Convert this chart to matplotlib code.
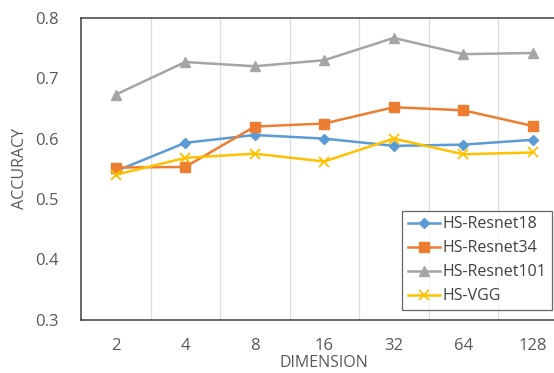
import matplotlib
matplotlib.use("Agg")
import matplotlib.pyplot as plt
import numpy as np

dims = ["2", "4", "8", "16", "32", "64", "128"]
resnet18 = [0.546, 0.593, 0.606, 0.600, 0.588, 0.590, 0.598]
resnet34 = [0.552, 0.553, 0.620, 0.625, 0.652, 0.647, 0.621]
resnet101 = [0.673, 0.727, 0.720, 0.730, 0.767, 0.740, 0.742]
vgg = [0.540, 0.568, 0.575, 0.562, 0.600, 0.574, 0.577]
yticks = [0.3, 0.4, 0.5, 0.6, 0.7, 0.8]

plt.rcParams['font.family'] = ['Open Sans', 'DejaVu Sans']
W, H = 554, 373
fig = plt.figure(figsize=(W/100, H/100), dpi=100)
ax = fig.add_axes([81/W, 1-319.5/H, 486.5/W, 301.5/H])

x = np.arange(len(dims))
ax.plot(x, resnet18, color='#5B9BD5', lw=1.8, marker='D', ms=5, label='HS-Resnet18', zorder=3)
ax.plot(x, resnet34, color='#ED7D31', lw=1.8, marker='s', ms=6.5, label='HS-Resnet34', zorder=3)
ax.plot(x, resnet101, color='#A5A5A5', lw=1.8, marker='^', ms=7, label='HS-Resnet101', zorder=3)
ax.plot(x, vgg, color='#FFC000', lw=1.8, marker='x', ms=7, mew=1.3, label='HS-VGG', zorder=3)

ax.set_xlim(-0.5, len(dims)-0.5)
ax.set_ylim(0.3, 0.8)
ax.set_xticks(x)
ax.set_xticklabels(dims)
ax.set_yticks(yticks)
ax.set_yticklabels([f"{v:.1f}" for v in yticks])
ax.set_xticks(np.arange(0.5, len(dims)-0.5, 1), minor=True)
ax.grid(True, axis='x', which='minor', color='#DDDDDD', lw=0.9)
ax.tick_params(axis='both', which='both', length=0, labelsize=12, colors='#595959')
ax.tick_params(axis='y', pad=16)
ax.tick_params(axis='x', pad=13)
for s in ['left', 'bottom', 'top']:
    ax.spines[s].set_color('#404040')
    ax.spines[s].set_linewidth(1.1)
ax.spines['right'].set_visible(False)

ax.set_xlabel('DIMENSION', fontsize=11.5, color='#595959', labelpad=1)
ax.set_ylabel('ACCURACY', fontsize=11.5, color='#595959', labelpad=5)

leg = fig.legend(loc='lower left', bbox_to_anchor=(402/W, 1-310/H), fontsize=11.5,
                 frameon=True, fancybox=False, edgecolor='#404040', handlelength=2.0,
                 handletextpad=0.2, borderpad=0.35, labelspacing=0.5, borderaxespad=0)
leg.get_frame().set_linewidth(0.9)
for t in leg.get_texts():
    t.set_color('#404040')

fig.savefig('out.png', dpi=100)
